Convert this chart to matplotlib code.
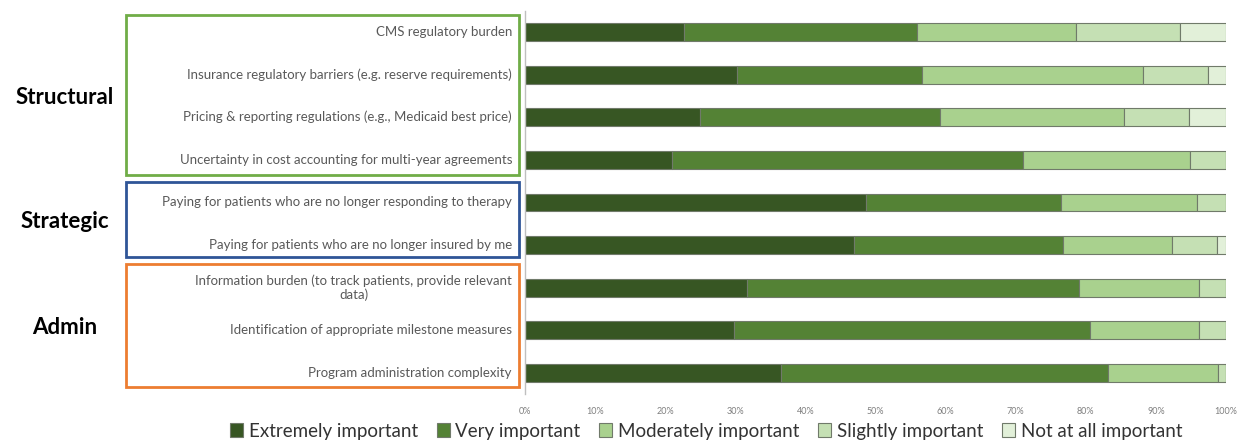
import matplotlib.pyplot as plt
from matplotlib.patches import Rectangle
import numpy as np

plt.rcParams['font.family'] = ['Lato', 'DejaVu Sans']

# Veriler (yüzde)
categories = [
    "CMS regulatory burden",
    "Insurance regulatory barriers (e.g. reserve requirements)",
    "Pricing & reporting regulations (e.g., Medicaid best price)",
    "Uncertainty in cost accounting for multi-year agreements",
    "Paying for patients who are no longer responding to therapy",
    "Paying for patients who are no longer insured by me",
    "Information burden (to track patients, provide relevant\ndata)",
    "Identification of appropriate milestone measures",
    "Program administration complexity",
]
extremely = [22.7, 30.3, 24.9, 21.0, 48.7, 46.9, 31.6, 29.8, 36.5]
very = [33.2, 26.3, 34.3, 50.0, 27.8, 29.8, 47.5, 50.8, 46.7]
moderately = [22.7, 31.6, 26.3, 23.8, 19.4, 15.6, 17.0, 15.5, 15.6]
slightly = [14.9, 9.2, 9.2, 5.2, 4.1, 6.4, 3.9, 3.9, 1.2]
not_at_all = [6.5, 2.6, 5.3, 0.0, 0.0, 1.3, 0.0, 0.0, 0.0]

series_names = ["Extremely important", "Very important", "Moderately important",
                "Slightly important", "Not at all important"]
colors = ["#375623", "#548235", "#A9D18E", "#C5E0B4", "#E2F0D9"]
x_ticks = [0, 10, 20, 30, 40, 50, 60, 70, 80, 90, 100]
groups = ["Structural", "Strategic", "Admin"]

W, H = 1238, 440
fig = plt.figure(figsize=(W / 100, H / 100), dpi=100)
ax = fig.add_axes([525 / W, (H - 394) / H, 701 / W, 383 / H])

y = np.arange(len(categories))
left = np.zeros(len(categories))
for name, vals, col in zip(series_names, [extremely, very, moderately, slightly, not_at_all], colors):
    vals = np.array(vals)
    ax.barh(y, vals, left=left, height=0.42, color=col, edgecolor="#707a6a",
            linewidth=0.8, label=name)
    left += vals

ax.set_xlim(0, 100)
ax.set_ylim(len(categories) - 0.5, -0.5)
ax.set_xticks(x_ticks)
ax.set_xticklabels([f"{t}%" for t in x_ticks], fontsize=6.5, color="#7f7f7f")
ax.tick_params(axis="x", length=0, pad=9)
ax.set_yticks([])
for s in ["top", "right", "bottom"]:
    ax.spines[s].set_visible(False)
ax.spines["left"].set_color("#bfbfbf")
ax.spines["left"].set_linewidth(1)

# Kategori etiketleri
for i, cat in enumerate(categories):
    fig.text(512 / W, 1 - (32 + i * 42.6) / H, cat, ha="right", va="center",
             multialignment="center", fontsize=9.5, color="#595959")

# Grup kutuları
boxes = [(15, 175, "#70AD47"), (182, 257, "#2F5597"), (264, 387, "#ED7D31")]
for (top, bot, col), g in zip(boxes, groups):
    fig.patches.append(Rectangle((126 / W, 1 - bot / H), (519 - 126) / W, (bot - top) / H,
                                 transform=fig.transFigure, fill=False,
                                 edgecolor=col, linewidth=2))
    fig.text(65 / W, 1 - ((top + bot) / 2 + 2) / H, g, ha="center", va="center",
             fontsize=16, fontweight="bold", color="black")

handles, labels = ax.get_legend_handles_labels()
fig.legend(handles, labels, loc="center", bbox_to_anchor=(706 / W, 1 - 431 / H),
           ncol=5, frameon=False, fontsize=13.5, handlelength=0.7, handleheight=0.7,
           handletextpad=0.3, columnspacing=1.0, labelcolor="#333333")

plt.savefig("out.png", dpi=100)
